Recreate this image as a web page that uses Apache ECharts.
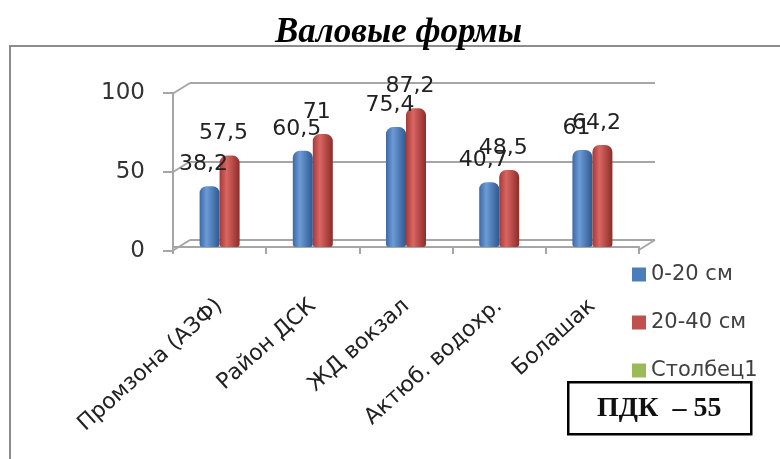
<!DOCTYPE html>
<html>
<head>
<meta charset="utf-8">
<script src="https://cdn.jsdelivr.net/npm/echarts@6/dist/echarts.min.js"></script>
<style>html,body{margin:0;padding:0;background:#fff}#c{width:780px;height:459px}</style>
</head>
<body>
<div id="c"></div>
<script>
const categories = ['Промзона (АЗФ)', 'Район ДСК', 'ЖД вокзал', 'Актюб. водохр.', 'Болашак'];
const depth0_20 = [38.2, 60.5, 75.4, 40.7, 61];
const depth20_40 = [57.5, 71, 87.2, 48.5, 64.2];
const stolbec1 = [];
const yTicks = [0, 50, 100];
const seriesNames = ['0-20 см', '20-40 см', 'Столбец1'];
const legendColors = ['#4a7ebb', '#c0504d', '#9bbb59'];

const chart = echarts.init(document.getElementById('c'));
const axisGray = '#a6a6a6';
const DX = 17, DY = -10.5;

function cyl(c0, c1, c2) {
  return { type: 'linear', x: 0, y: 0, x2: 1, y2: 0,
    colorStops: [{ offset: 0, color: c0 }, { offset: 0.35, color: c1 }, { offset: 1, color: c2 }] };
}
const fmt = p => String(p.value).replace('.', ',');
const lbl = { show: true, position: 'top', distance: 11, offset: [-6, 0], formatter: fmt,
  fontFamily: 'DejaVu Sans', fontSize: 22, color: '#222' };

chart.setOption({
  animation: false,
  title: { text: 'Валовые формы', left: 270, top: 10,
    textStyle: { fontFamily: 'Liberation Serif', fontStyle: 'italic', fontWeight: 'bold', fontSize: 35, color: '#000' } },
  legend: { orient: 'vertical', left: 627, top: 259, itemWidth: 14, itemHeight: 14, itemGap: 27, icon: 'rect',
    data: seriesNames.map((n, i) => ({ name: n, itemStyle: { color: legendColors[i] } })),
    textStyle: { fontFamily: 'DejaVu Sans', fontSize: 21, color: '#404040' } },
  grid: [
    { left: 190, right: 125, top: 83, bottom: 219 },
    { left: 173, right: 141, top: 88, bottom: 212 },
    { left: 173, right: 141, top: 93, bottom: 208 }
  ],
  xAxis: [
    { gridIndex: 0, type: 'value', min: 0, max: 1, show: false },
    { gridIndex: 1, type: 'category', data: categories, offset: 4,
      axisLine: { show: true, lineStyle: { color: axisGray, width: 2 } },
      axisTick: { show: true, length: 7, lineStyle: { color: axisGray, width: 2 } },
      axisLabel: { rotate: 42, margin: 52, fontFamily: 'DejaVu Sans', fontSize: 22, color: '#222' } },
    { gridIndex: 2, type: 'category', data: categories, show: false }
  ],
  yAxis: [
    { gridIndex: 0, min: 0, max: 100, interval: 50, axisLine: { show: false }, axisTick: { show: false },
      axisLabel: { show: false }, splitLine: { lineStyle: { color: axisGray, width: 2 } } },
    { gridIndex: 1, min: 0, max: 100, show: false },
    { gridIndex: 2, min: 0, max: 100, interval: 50,
      axisLine: { show: true, lineStyle: { color: axisGray, width: 2 } },
      axisTick: { show: true, length: 10, lineStyle: { color: axisGray, width: 2 } },
      axisLabel: { margin: 28, fontFamily: 'DejaVu Sans', fontSize: 23, color: '#333' },
      splitLine: { show: false } }
  ],
  series: [
    { type: 'custom', xAxisIndex: 0, yAxisIndex: 0, silent: true, z: 1,
      data: yTicks.map(v => [0, v]).concat([[1, yTicks[0]]]),
      renderItem: (params, api) => {
        const p = api.coord([api.value(0), api.value(1)]);
        return { type: 'line', shape: { x1: p[0] - DX, y1: p[1] - DY, x2: p[0], y2: p[1] },
          style: { stroke: axisGray, lineWidth: 2 } };
      } },
    { name: seriesNames[0], type: 'bar', xAxisIndex: 1, yAxisIndex: 1, data: depth0_20, barWidth: 20, barGap: '0%', z: 3,
      itemStyle: { color: cyl('#3c69a6', '#6d9bd6', '#2d5891'), borderRadius: [7, 7, 3, 3] }, label: lbl },
    { name: seriesNames[1], type: 'bar', xAxisIndex: 1, yAxisIndex: 1, data: depth20_40, barWidth: 20, barGap: '0%', z: 3,
      itemStyle: { color: cyl('#a33a37', '#da6662', '#8c2c29'), borderRadius: [7, 7, 3, 3] }, label: lbl },
    { name: seriesNames[2], type: 'bar', xAxisIndex: 2, yAxisIndex: 2, data: stolbec1,
      itemStyle: { color: legendColors[2] } }
  ],
  graphic: [
    { type: 'rect', shape: { x: 10, y: 46, width: 900, height: 500 }, silent: true, z: -10,
      style: { fill: 'none', stroke: '#8c8c8c', lineWidth: 2 } },
    { type: 'group', left: 567, top: 381, z: 100, children: [
      { type: 'rect', shape: { x: 0, y: 0, width: 183, height: 52 }, style: { fill: '#fff', stroke: '#000', lineWidth: 2.5 } },
      { type: 'text', x: 91, y: 27, style: { text: 'ПДК  – 55', fontFamily: 'Liberation Serif', fontWeight: 'bold',
        fontSize: 28, fill: '#111', textAlign: 'center', textVerticalAlign: 'middle' } }
    ] }
  ]
});
</script>
</body>
</html>
